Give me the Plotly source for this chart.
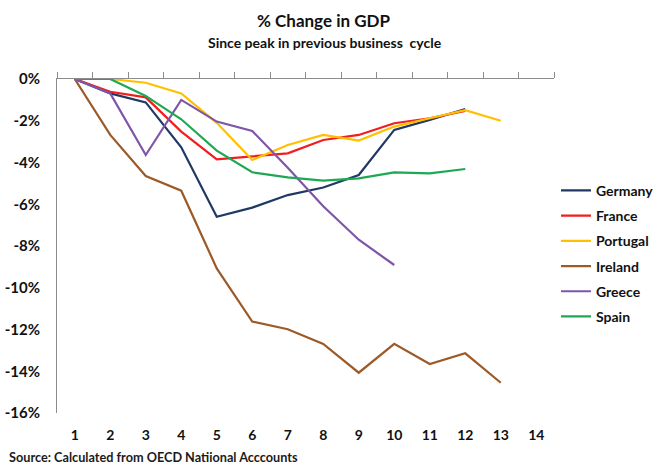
import plotly.graph_objects as go

periods = list(range(1, 15))
tick_labels = [str(p) for p in periods]

germany = [0, -0.69, -1.12, -3.27, -6.6, -6.16, -5.56, -5.2, -4.6, -2.44, -1.96, -1.44]
france = [0, -0.61, -0.88, -2.52, -3.85, -3.69, -3.56, -2.92, -2.68, -2.12, -1.88, -1.53]
portugal = [0, 0, -0.18, -0.69, -2.1, -3.88, -3.16, -2.68, -2.95, -2.28, -1.88, -1.49, -2.0]
ireland = [0, -2.68, -4.65, -5.35, -9.07, -11.62, -11.99, -12.69, -14.07, -12.69, -13.65, -13.14, -14.55]
greece = [0, -0.69, -3.64, -1.0, -2.04, -2.49, -4.25, -6.1, -7.7, -8.91]
spain = [0, 0, -0.81, -1.93, -3.43, -4.47, -4.71, -4.87, -4.76, -4.47, -4.52, -4.31]

series = [
    ("Germany", germany, "#1F3864"),
    ("France", france, "#F01E1E"),
    ("Portugal", portugal, "#FFC000"),
    ("Ireland", ireland, "#9C5A28"),
    ("Greece", greece, "#7E55A8"),
    ("Spain", spain, "#1EA854"),
]

y_ticks = [0, -2, -4, -6, -8, -10, -12, -14, -16]
y_tick_labels = [f"{v}%" for v in y_ticks]

fig = go.Figure()
for name, vals, color in series:
    fig.add_trace(go.Scatter(
        x=periods[:len(vals)], y=vals, name=name, mode="lines", legendgroup=name,
        line=dict(color=color, width=2.2),
    ))

# invisible trace to realise the top (zero-line) axis
fig.add_trace(go.Scatter(x=[periods[0]], y=[0], xaxis="x2", mode="markers",
                         marker=dict(opacity=0), showlegend=False, hoverinfo="skip"))

font_fam = "Lato, 'Open Sans', sans-serif"

fig.update_layout(
    width=658, height=466,
    margin=dict(l=57, r=104, t=79, b=53, autoexpand=False),
    paper_bgcolor="white", plot_bgcolor="white",
    font=dict(family=font_fam, color="#1a1a1a"),
    xaxis=dict(
        range=[0.5, 14.5], tickmode="array", tickvals=periods, ticktext=tick_labels,
        showline=False, showgrid=False, zeroline=False, ticks="", automargin=False,
        tickfont=dict(size=14, family=font_fam, color="#111", weight="bold"),
        ticklabelstandoff=12,
    ),
    xaxis2=dict(
        overlaying="x", side="top", anchor="y", range=[0.5, 14.5], automargin=False,
        tickmode="array", tickvals=[p - 0.5 for p in periods] + [14.5],
        showticklabels=False, ticks="outside", ticklen=6, tickcolor="#8c8c8c",
        showline=True, linecolor="#8c8c8c", linewidth=1, showgrid=False, zeroline=False,
    ),
    yaxis=dict(
        range=[-16, 0], tickmode="array", tickvals=y_ticks, ticktext=y_tick_labels,
        showline=True, linecolor="#8c8c8c", linewidth=1, showgrid=False, zeroline=False,
        ticks="", ticklabelstandoff=13, automargin=False,
        tickfont=dict(size=15, family=font_fam, color="#111", weight="bold"),
    ),
    legend=dict(
        x=1.004, xanchor="left", y=0.713, yanchor="top",
        font=dict(size=14, family=font_fam, color="#111", weight="bold"),
        tracegroupgap=4, itemwidth=30, bgcolor="rgba(0,0,0,0)",
    ),
    annotations=[
        dict(text="<b>% Change in GDP</b>", xref="paper", yref="paper",
             x=(323 - 57) / 497, y=1 + (79 - 20) / 334, xanchor="center", yanchor="middle",
             showarrow=False, font=dict(size=17, family=font_fam, color="#111")),
        dict(text="<b>Since peak in previous business  cycle</b>", xref="paper", yref="paper",
             x=(325 - 57) / 497, y=1 + (79 - 42) / 334, xanchor="center", yanchor="middle",
             showarrow=False, font=dict(size=14, family=font_fam, color="#111")),
        dict(text="<b>Source: Calculated from OECD Natiional Acccounts</b>",
             xref="paper", yref="paper", x=(7 - 57) / 497, y=-(457 - 413) / 334,
             xanchor="left", yanchor="middle",
             showarrow=False, font=dict(size=12.7, family=font_fam, color="#1a1a1a")),
    ],
)

fig.write_html("out.html", config={"displayModeBar": False},
               post_script="document.body.style.margin='0';")
